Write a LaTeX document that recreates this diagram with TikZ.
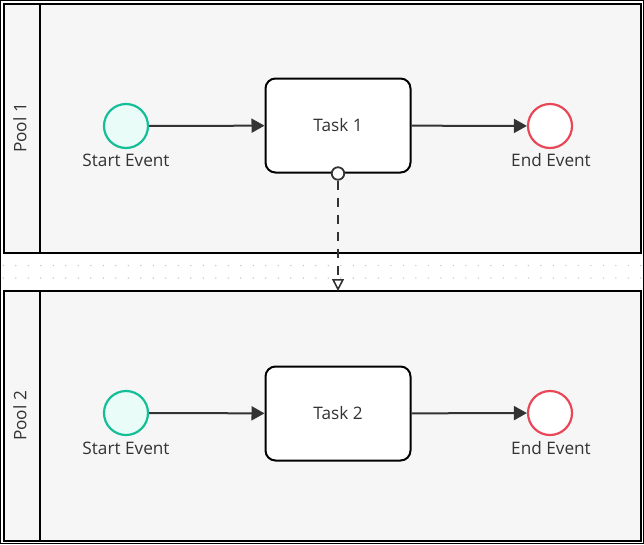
\documentclass[tikz,border=0pt]{standalone}
\usepackage{fontspec}
\setmainfont{Open Sans}
\usetikzlibrary{arrows.meta}
\definecolor{poolfill}{HTML}{F6F6F6}
\definecolor{ink}{HTML}{333333}
\definecolor{startc}{HTML}{14BE96}
\definecolor{startfill}{HTML}{EAFCF8}
\definecolor{endc}{HTML}{E84757}
\definecolor{dotc}{HTML}{C8C8C8}
\tikzset{
  pool/.style={draw=black, line width=2pt, fill=poolfill},
  startev/.style={circle, draw=startc, line width=2.2pt, fill=startfill, minimum size=44pt, inner sep=0pt},
  endev/.style={circle, draw=endc, line width=2.2pt, fill=white, minimum size=44pt, inner sep=0pt},
  taskbox/.style={draw=black, line width=2pt, fill=white, rounded corners=10pt, minimum width=145pt, minimum height=94pt, inner sep=0pt, font=\fontsize{17.2pt}{20pt}\selectfont, text=ink},
  lbl/.style={font=\fontsize{17.2pt}{20pt}\selectfont, text=ink, inner sep=0pt},
  seqflow/.style={draw=ink, line width=2pt, -{Triangle[length=13pt,width=14pt]}},
  msgflow/.style={draw=ink, line width=2pt, dash pattern=on 9pt off 8pt, -{Triangle[open,length=12pt,width=12pt,fill=white,line width=1.6pt]}},
}
\begin{document}
\begin{tikzpicture}[x=1pt,y=-1pt]
\fill[white] (0,0) rectangle (644,544);
\useasboundingbox (0,0) rectangle (644,544);
\draw[black, line width=1pt] (0.5,0.5) rectangle (643.5,543.5);
% gap dots
\foreach \i in {0,...,51}{
  \fill[dotc] (3.3+12.5*\i,265.5) circle (0.8);
  \fill[dotc] (3.3+12.5*\i,278) circle (0.8);
}
% pools
\draw[pool] (3.5,3.5) rectangle (640.5,253);
\draw[black, line width=2pt] (40,3.5) -- (40,253);
\node[lbl, rotate=90] (p1) at (20,128) {Pool 1};
\draw[pool] (3.5,291) rectangle (640.5,540.5);
\draw[black, line width=2pt] (40,291) -- (40,540.5);
\node[lbl, rotate=90] (p2) at (20,416) {Pool 2};
% pool 1
\node[startev] (s1) at (126,126) {};
\node[lbl] (s1l) at (126,160) {Start Event};
\node[taskbox] (t1) at (338,125.5) {Task 1};
\node[endev] (e1) at (550,126) {};
\node[lbl] (e1l) at (551,160) {End Event};
\draw[seqflow] (s1) -- (t1);
\draw[seqflow] (t1) -- (e1);
% pool 2
\node[startev] (s2) at (126,413) {};
\node[lbl] (s2l) at (126,448) {Start Event};
\node[taskbox] (t2) at (338,413.5) {Task 2};
\node[endev] (e2) at (550,413) {};
\node[lbl] (e2l) at (551,448) {End Event};
\draw[seqflow] (s2) -- (t2);
\draw[seqflow] (t2) -- (e2);
% message flow
\coordinate (mtop) at (338,291);
\node[circle, draw=ink, line width=1.8pt, fill=white, minimum size=12.5pt, inner sep=0pt] (mstart) at (t1.south) {};
\draw[msgflow] (mstart) -- (mtop);
\end{tikzpicture}
\end{document}
